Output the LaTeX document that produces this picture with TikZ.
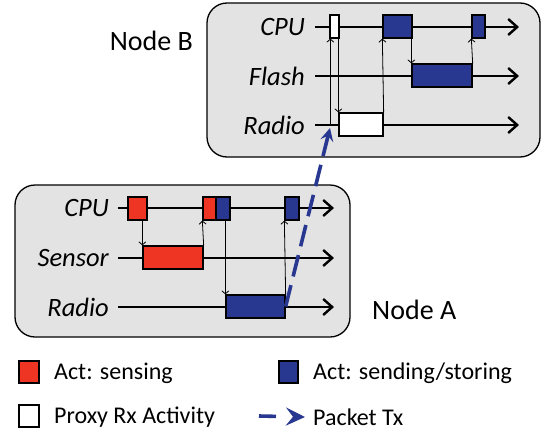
\documentclass[tikz,border=0pt]{standalone}
\usepackage{fontspec}
\setmainfont{Carlito}
\usetikzlibrary{arrows.meta}
\definecolor{actred}{RGB}{238,53,36}
\definecolor{actblue}{RGB}{40,56,144}
\definecolor{panelgray}{RGB}{227,227,227}
\tikzstyle{panel} = [draw, line width=1.3pt, fill=panelgray, rounded corners=20, inner sep=0]
\tikzstyle{lane}  = [font=\fontsize{26.5}{28}\selectfont\itshape, anchor=east, inner sep=0]
\tikzstyle{axis}  = [line width=1.7pt, -{Straight Barb[length=9pt,width=16pt,line width=2.4pt]}]
\tikzstyle{act}   = [draw, line width=1.3pt, minimum height=23, inner sep=0]
\tikzstyle{red}   = [act, fill=actred]
\tikzstyle{blue}  = [act, fill=actblue]
\tikzstyle{proxy} = [act, fill=white]
\tikzstyle{sig}   = [line width=0.8pt, -{Straight Barb[length=3pt,width=7pt]}]
\tikzstyle{packet} = [actblue, line width=3.6pt, dash pattern=on 22pt off 9pt]
\tikzstyle{legend} = [font=\fontsize{24}{26}\selectfont, anchor=west, inner sep=0]

\begin{document}
\begin{tikzpicture}[x=1pt,y=-1pt]
\useasboundingbox (0,0) rectangle (556,431);

% node B
\node[panel, minimum width=333, minimum height=154] (nodeB) at (373.5,80) {};
\node[font=\fontsize{28}{30}\selectfont, anchor=east, inner sep=0] (nameB) at (193,41) {Node B};
\node[lane] (bcpu)   at (305,27)  {CPU};
\node[lane] (bflash) at (305,76)  {Flash};
\node[lane] (bradio) at (305,125) {Radio};
\coordinate (bcpuEnd)   at (519,27);
\coordinate (bflashEnd) at (519,76);
\coordinate (bradioEnd) at (519,125);
\draw[axis] ([xshift=10pt]bcpu.east)   -- (bcpuEnd);
\draw[axis] ([xshift=10pt]bflash.east) -- (bflashEnd);
\draw[axis] ([xshift=10pt]bradio.east) -- (bradioEnd);
\node[proxy, minimum width=9]  (bw1) at (334.5,26.5) {};
\node[blue,  minimum width=29] (bb1) at (397.5,26.5) {};
\node[blue,  minimum width=13] (bb2) at (478.5,26.5) {};
\node[blue,  minimum width=60] (bfl) at (442,75.5)   {};
\node[proxy, minimum width=44] (brw) at (361,124.5)  {};
\draw[sig] ([xshift=1pt]bw1.south west |- brw.west) -- ([xshift=1pt]bw1.south west);
\draw[sig] (brw.north west |- bw1.south) -- (brw.north west);
\draw[sig] (brw.north east) -- (bb1.south west);
\draw[sig] (bfl.north west |- bb1.south) -- (bfl.north west);
\draw[sig] (bfl.north east) -- (bb2.south west);

% node A
\node[panel, minimum width=335, minimum height=152] (nodeA) at (182.5,261) {};
\node[font=\fontsize{28}{30}\selectfont, anchor=west, inner sep=0] (nameA) at (372,310) {Node A};
\node[lane] (acpu)    at (109,208) {CPU};
\node[lane] (asensor) at (109,258) {Sensor};
\node[lane] (aradio)  at (109,307) {Radio};
\coordinate (acpuEnd)    at (334,208);
\coordinate (asensorEnd) at (334,258);
\coordinate (aradioEnd)  at (334,307);
\draw[axis] ([xshift=9pt]acpu.east)    -- (acpuEnd);
\draw[axis] ([xshift=9pt]asensor.east) -- (asensorEnd);
\draw[axis] ([xshift=9pt]aradio.east)  -- (aradioEnd);
\node[red,  minimum width=19] (ar1) at (137.5,208.5) {};
\node[red,  minimum width=13] (ar2) at (209.5,208.5) {};
\node[blue, minimum width=14] (ab1) at (223,208.5)   {};
\node[blue, minimum width=14] (ab2) at (292,208.5)   {};
\node[red,  minimum width=60] (asr) at (173,257.5)   {};
\node[blue, minimum width=59] (arb) at (255.5,306.5) {};
\draw[sig] (asr.north west |- ar1.south) -- (asr.north west);
\draw[sig] (asr.north east) -- (ar2.south west);
\draw[sig] (arb.north west |- ab1.south) -- (arb.north west);
\draw[sig] (arb.north east) -- (ab2.south west);

% packet from A to B
\coordinate (rxIn) at (330,128);
\draw[packet, -{Stealth[length=13pt,width=13pt,inset=5pt]}] (arb.east) -- (rxIn);

% legend
\node[red,   minimum width=20, minimum height=22] (keySense) at (29,372)    {};
\node[legend] (txtSense) at (54,373) {Act: sensing};
\node[blue,  minimum width=19, minimum height=22] (keySend)  at (288.5,372) {};
\node[legend] (txtSend)  at (313,373) {Act: sending/storing};
\node[proxy, minimum width=20, minimum height=22] (keyProxy) at (29,416)    {};
\node[legend] (txtProxy) at (54,417) {Proxy Rx Activity};
\node[legend] (txtTx) at (313,417) {Packet Tx};
\coordinate (keyTx) at (259,416);
\draw[packet, dash pattern=on 17pt off 40pt, -{Stealth[length=19pt,width=18pt,inset=7pt]}] (keyTx) -- ([xshift=-8pt]txtTx.west);
\end{tikzpicture}
\end{document}
